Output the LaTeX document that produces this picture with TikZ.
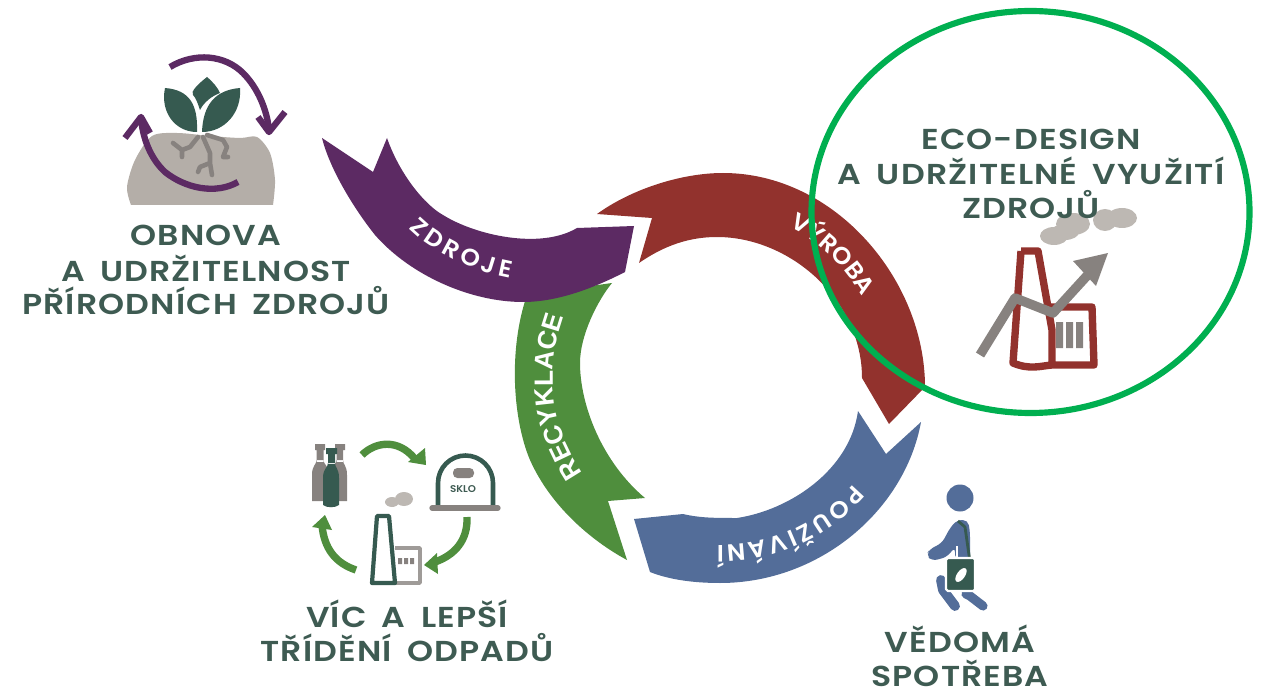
\documentclass[tikz,border=0pt]{standalone}
\usepackage{fontspec}
\usetikzlibrary{decorations.text}
\setmainfont{Poppins}
\newfontfamily\titlefont[FakeStretch=1.15,LetterSpace=4,WordSpace=1.7]{Poppins SemiBold}
\newfontfamily\ringfont[FakeStretch=1.05]{Poppins SemiBold}
\newfontfamily\recfont{Liberation Sans}
\definecolor{titlegreen}{HTML}{3E5B52}
\definecolor{darkgreen}{HTML}{365A50}
\definecolor{zdrojecol}{HTML}{5C2A63}
\definecolor{vyrobacol}{HTML}{92322D}
\definecolor{pouzicol}{HTML}{536D99}
\definecolor{recycol}{HTML}{4F8E3D}
\definecolor{ringgreen}{HTML}{00AF50}
\definecolor{soil}{HTML}{B4AEA8}
\definecolor{cloud}{HTML}{BDB8B3}
\definecolor{stone}{HTML}{87827F}

\begin{document}
\begin{tikzpicture}
[x=0.02cm,y=-0.02cm,line join=round,
title/.style = {anchor=base,text=titlegreen,inner sep=0pt,text depth=0pt,font=\titlefont\fontsize{16.4}{18}\selectfont},
ringtext/.style = {decorate,decoration={text along path,text align={fit to path},text color=white,text={|\ringfont\fontsize{13.5}{15}\selectfont|#1}}},
rectext/.style = {decorate,decoration={text along path,text align={fit to path},text color=white,text={|\recfont\bfseries\fontsize{15}{16}\selectfont|#1}}},
arrowline/.style = {draw=zdrojecol,line width=3.6pt},
recline/.style = {draw=recycol,line width=4.2pt},
rootline/.style = {draw=stone,line width=2.6pt,line cap=round},]
\useasboundingbox (0,0) rectangle (1261,689);

\fill[recycol] (612,283) .. controls (598,300) and (580,335) .. (580,363)
 .. controls (580,405) and (602,462) .. (645,498) -- (608,501) -- (627,560)
 .. controls (590,540) and (550,505) .. (530,460)
 .. controls (513,420) and (508,350) .. (527,295) -- cycle;
\fill[zdrojecol] (322,138) -- (373,172) -- (387,138)
 .. controls (400,175) and (425,205) .. (443,215)
 .. controls (475,235) and (540,250) .. (577,228) -- (634,226) -- (625,272)
 .. controls (590,290) and (555,302) .. (523,302)
 .. controls (470,302) and (410,275) .. (375,235)
 .. controls (355,210) and (330,170) .. (322,138) -- cycle;
\fill[vyrobacol] (597,214) -- (652,218) -- (639,263)
 .. controls (665,245) and (690,237) .. (717,237)
 .. controls (790,237) and (862,300) .. (862,378)
 -- (889,424) -- (925,387)
 .. controls (925,280) and (835,173) .. (723,173)
 .. controls (680,173) and (630,190) .. (597,214) -- cycle;
\fill[pouzicol] (858,411) -- (886,454) -- (921,422)
 .. controls (905,510) and (820,583) .. (720,583)
 .. controls (695,583) and (670,580) .. (650,572)
 -- (634,519) -- (683,514)
 .. controls (700,518) and (715,518) .. (737,518)
 .. controls (790,510) and (850,470) .. (858,411) -- cycle;

\path[ringtext=ZDROJE] (409,228) .. controls (425,245) and (465,270) .. (510,278);
\path[ringtext=VÝROBA] (789,227) .. controls (819,241) and (843,265) .. (862,296);
\path[ringtext=POUŽÍVÁNÍ] (853,484) .. controls (819,524) and (769,546) .. (717,545);
\path[rectext=RECYKLACE] (583,473) .. controls (551,427) and (545,373) .. (563,320);

\node (obnova) at (206,246)[title] {OBNOVA};
\node (udrz) at (206,281)[title] {A UDRŽITELNOST};
\node (prirod) at (206,315)[title] {PŘÍRODNÍCH ZDROJŮ};

\node (eco) at (1031,150)[title] {ECO-DESIGN};
\node (vyuz) at (1031,185)[title] {A UDRŽITELNÉ VYUŽITÍ};

\fill[cloud] (1054,236) ellipse (14 and 9);
\fill[cloud] (1073,224) ellipse (17 and 11);
\fill[cloud] (1065,232) ellipse (14 and 8);
\fill[cloud] (1105,220) ellipse (12 and 11);
\fill[cloud] (1122,218) ellipse (15 and 10);
\node (zdroju) at (1031,219)[title] {ZDROJŮ};

\node (vic) at (407,627)[title] {VÍC A LEPŠÍ};
\node (trid) at (407,661)[title] {TŘÍDĚNÍ ODPADŮ};
\node (vedoma) at (960,652)[title] {VĚDOMÁ};
\node (spotr) at (960,686)[title] {SPOTŘEBA};

% obnova
\fill[soil] plot[smooth] coordinates {(131,205) (127,187) (135,160) (152,136) (177,133) (210,136) (240,138) (257,137) (270,153) (275,180) (273,205)} -- cycle;
\fill[darkgreen] (165,88) .. controls (190,90) and (198,105) .. (197,132) .. controls (175,132) and (160,112) .. (165,88) -- cycle;
\fill[darkgreen] (240,88) .. controls (215,90) and (203,105) .. (202,132) .. controls (225,132) and (242,112) .. (240,88) -- cycle;
\fill[darkgreen] (207,77) .. controls (198,84) and (190,92) .. (193,95) .. controls (196,98) and (198,104) .. (200,110) .. controls (204,102) and (212,96) .. (220,93) .. controls (218,88) and (213,82) .. (207,77) -- cycle;
\draw[rootline] (198,137) -- (190,147) -- (182,150) -- (173,143) (182,150) -- (182,157);
\draw[rootline] (203,137) -- (210,153) -- (210,163) -- (200,167) -- (198,172) (210,163) -- (212,175);
\draw[rootline] (207,135) -- (223,140) -- (227,147) -- (223,157) -- (228,157);
\draw[arrowline] (170,67) .. controls (195,52) and (225,55) .. (243,73) .. controls (258,88) and (267,110) .. (269,130);
\draw[arrowline] (258,117) -- (269,132) -- (285,112);
\draw[arrowline] (238,182) .. controls (215,195) and (185,188) .. (165,172) .. controls (150,158) and (143,138) .. (141,119);
\draw[arrowline] (125,138) -- (141,117) -- (150,133);

% sklo
\fill[stone] (315,444) rectangle (325,450) (316.5,450) rectangle (323.5,462) (312,475) .. controls (312,465) and (316.5,465) .. (316.5,460) -- (323.5,460) .. controls (323.5,465) and (329,465) .. (329,475) -- (329,501) -- (312,501) -- cycle;
\fill[stone] (335,444) rectangle (345,450) (336.5,450) rectangle (343,462) (330,475) .. controls (330,465) and (336.5,465) .. (336.5,460) -- (343,460) .. controls (343,465) and (347,465) .. (347,475) -- (347,501) -- (330,501) -- cycle;
\fill[darkgreen] (326,448) rectangle (337,454) (328,454) rectangle (335,464) (323,478) .. controls (323,468) and (328,468) .. (328,463) -- (335,463) .. controls (335,468) and (339,468) .. (339,478) -- (339,505) .. controls (335,508) and (327,508) .. (323,505) -- cycle;
\draw[recline] (362,455) .. controls (375,442) and (398,438) .. (415,459);
\fill[recycol] (425,448) -- (426,465) -- (408,462) -- cycle;
\draw[recline] (467,517) .. controls (468,540) and (455,555) .. (435,562);
\fill[recycol] (424,565) -- (437,553) -- (438,574) -- cycle;
\draw[recline] (356,570) .. controls (335,563) and (324,548) .. (322,525);
\fill[recycol] (312,527) -- (325,515) -- (332,530) -- cycle;
\draw[darkgreen,line width=2.6pt] (438,506) -- (438,483) arc (180:360:27.5) -- (493,506);
\draw[stone,line width=3pt,line cap=round] (432,508) -- (498,508);
\fill[stone,rounded corners=2.5pt] (453,468) rectangle (474,478);
\node (sklo) at (463,489)[text=titlegreen,inner sep=0pt,font=\ringfont\fontsize{5.6}{6}\selectfont] {SKLO};
\fill[cloud] (392,502) ellipse (7 and 5);
\fill[cloud] (404,499) ellipse (9 and 7);
\draw[stone!80,line width=2pt] (395,548) -- (420,548) -- (420,583) -- (395,583);
\fill[stone] (398,558) rectangle (402,564) (404,558) rectangle (408,564) (410,558) rectangle (414,564);
\draw[darkgreen,line width=2.4pt] (377,516) -- (389,516) -- (395,583) -- (372,583) -- cycle;

% vyroba
\draw[vyrobacol,line width=4.2pt] (1021,251) -- (1038,251) -- (1052,330) -- (1052,365) (1021,251) -- (1013,363) .. controls (1030,370) and (1040,366) .. (1052,365) -- (1094,365) -- (1092,307) -- (1050,307);
\fill[stone] (1056,322) rectangle (1063,348) (1066,322) rectangle (1073,348) (1076,322) rectangle (1083,348);
\draw[stone,line width=5.4pt] (980,355) -- (1015,298) -- (1053,313) -- (1095,267);
\fill[stone] (1073,261) -- (1108,253) -- (1096,286) -- cycle;

% person
\fill[pouzicol] (960,498) circle (13.5);
\fill[pouzicol,rounded corners=3] (957,520) -- (968,520) -- (970,532) -- (970,560) -- (955,560) -- (955,547) -- (947,557) -- (932,561) -- (926,555) -- (930,549) -- (942,543) -- (950,528) -- cycle;
\draw[pouzicol,line width=5.6pt,line cap=round] (941,580) -- (943,590) -- (955,606);
\draw[pouzicol,line width=5.2pt,line cap=round] (966,594) -- (970,596) -- (983,606);
\draw[white,line width=0.8pt] (957,546) -- (957,558) -- (965,558);
\draw[darkgreen,line width=1.6pt] (958,521) -- (965,527) -- (970,562);
\draw[white,line width=1.2pt,fill=darkgreen,rounded corners=1] (946,558) rectangle (975,591);
\fill[white,rotate around={55:(961,575)}] (961,575) ellipse (8 and 4);

\draw[ringgreen,line width=3.5pt] (1030.5,212) ellipse (219 and 201);
\end{tikzpicture}
\end{document}
